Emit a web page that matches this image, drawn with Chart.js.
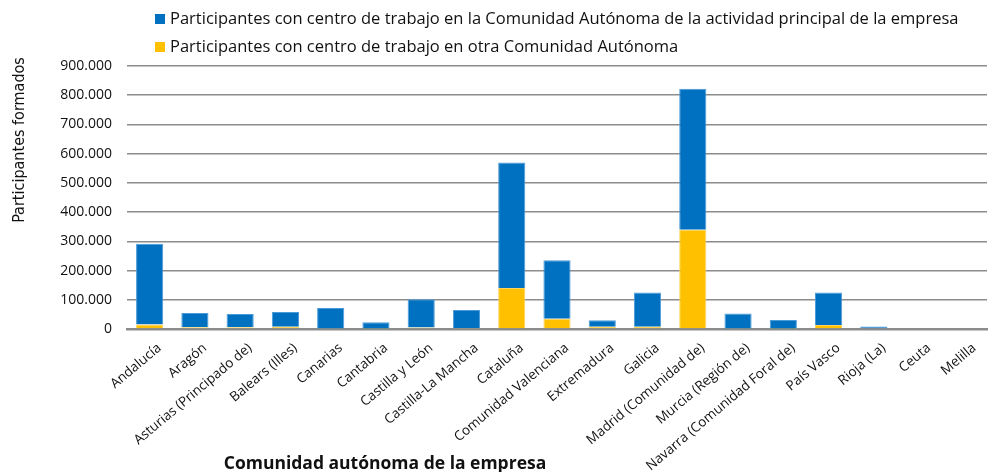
<!DOCTYPE html>
<html>
<head>
<meta charset="utf-8">
<script src="https://cdn.jsdelivr.net/npm/chart.js@4/dist/chart.umd.min.js"></script>
<style>
  body { margin: 0; background: #fff; }
  #wrap { position: relative; width: 989px; height: 472px; }
</style>
</head>
<body>
<div id="wrap"><canvas id="myChart"></canvas></div>
<script>
const comunidades = ["Andalucía", "Aragón", "Asturias (Principado de)", "Balears (Illes)", "Canarias",
  "Cantabria", "Castilla y León", "Castilla-La Mancha", "Cataluña", "Comunidad Valenciana",
  "Extremadura", "Galicia", "Madrid (Comunidad de)", "Murcia (Región de)",
  "Navarra (Comunidad Foral de)", "País Vasco", "Rioja (La)", "Ceuta", "Melilla"];
const enSuComunidad = [277000, 49000, 45000, 50000, 70000, 22000, 97000, 62000, 430000, 200000,
  22000, 117000, 482000, 51000, 30000, 111000, 8500, 0, 0];
const enOtraComunidad = [15000, 6000, 6000, 8000, 2000, 1000, 5000, 3000, 140000, 35000,
  8000, 8000, 340000, 2000, 1000, 14000, 0, 0, 0];
const yMax = 900000;
const yStep = 100000;

const nombreSu = "Participantes con centro de trabajo en la Comunidad Autónoma de la actividad principal de la empresa";
const nombreOtra = "Participantes con centro de trabajo en otra Comunidad Autónoma";
const tituloX = "Comunidad autónoma de la empresa";
const tituloY = "Participantes formados";

const FONT = "'Open Sans', 'DejaVu Sans', sans-serif";

// legend at top-left (two lines), axis titles placed like the original
const extras = {
  id: "extras",
  afterDraw(chart) {
    const ctx = chart.ctx;
    const ds = chart.data.datasets.slice().reverse();
    ctx.save();
    ctx.font = "16.5px " + FONT;
    ctx.textBaseline = "middle";
    ds.forEach(function (d, i) {
      const y = 19 + i * 28;
      ctx.fillStyle = d.backgroundColor;
      ctx.fillRect(155, y - 5, 10, 10);
      ctx.fillStyle = "#111";
      ctx.fillText(d.label, 170, y);
    });
    const a = chart.chartArea;
    ctx.font = "bold 17.5px " + FONT;
    ctx.textAlign = "center";
    ctx.textBaseline = "alphabetic";
    ctx.fillText(tituloX, a.left + (a.right - a.left) * 0.3, 469);

    ctx.translate(20, 140);
    ctx.rotate(-Math.PI / 2);
    ctx.font = "16px 'Liberation Sans Narrow', 'DejaVu Sans Condensed', sans-serif";
    ctx.textBaseline = "middle";
    ctx.fillText(tituloY, 0, 0);
    ctx.restore();
  }
};

new Chart("myChart", {
  type: "bar",
  data: {
    labels: comunidades,
    datasets: [{
      label: nombreOtra,
      data: enOtraComunidad,
      backgroundColor: "#FFC000",
      borderColor: "#FFD35A",
      borderWidth: 1,
      categoryPercentage: 1,
      barPercentage: 0.6
    }, {
      label: nombreSu,
      data: enSuComunidad,
      backgroundColor: "#0070C0",
      borderColor: "#4C9BD8",
      borderWidth: 1,
      categoryPercentage: 1,
      barPercentage: 0.6
    }]
  },
  options: {
    responsive: true,
    maintainAspectRatio: false,
    animation: false,
    layout: { padding: { top: 66, bottom: 0, right: 2, left: 0 } },
    plugins: {
      legend: { display: false },
      tooltip: { enabled: false }
    },
    scales: {
      x: {
        stacked: true,
        grid: { display: false },
        border: { color: "#8c8c8c", width: 2.5 },
        afterFit: function (scale) { scale.height = 143; },
        ticks: {
          color: "#111",
          font: { family: FONT, size: 13.5 },
          minRotation: 40,
          maxRotation: 40,
          labelOffset: 10,
          autoSkip: false
        }
      },
      y: {
        stacked: true,
        min: 0,
        max: yMax,
        border: { display: false },
        grid: { color: "#8c8c8c", lineWidth: 1.5, drawTicks: false },
        afterFit: function (scale) { scale.width = 127; },
        ticks: {
          stepSize: yStep,
          padding: 15,
          color: "#111",
          font: { family: FONT, size: 14 },
          callback: function (v) { return v.toLocaleString("de-DE"); }
        }
      }
    }
  },
  plugins: [extras]
});
</script>
</body>
</html>
